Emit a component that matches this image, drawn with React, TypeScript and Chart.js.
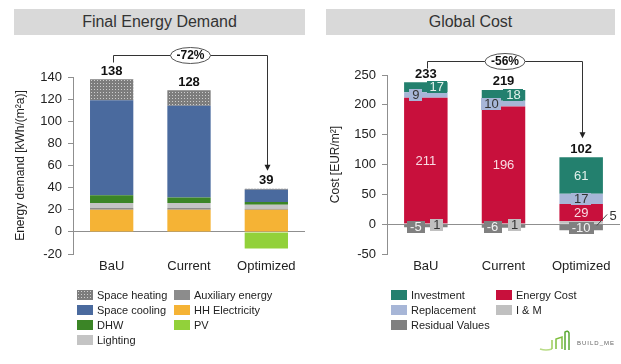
import React, { useEffect, useRef } from 'react';
import { Chart, registerables } from 'chart.js';

Chart.register(...registerables);

const FONT = 'Liberation Sans, Arial, Helvetica, sans-serif';
Chart.defaults.font.family = FONT;

// ---------- shared ----------
const categories = ['BaU', 'Current', 'Optimized'];

// ---------- Final Energy Demand [kWh/(m²a)] ----------
const hhElectricity = [20, 20, 20];
const auxiliaryEnergy = [1.5, 1.5, 1];
const lighting = [4.5, 4.5, 3.5];
const dhw = [7, 5, 2.5];
const spaceCooling = [86, 83, 11];
const spaceHeating = [19, 14, 1];
const pv = [0, 0, -15];
const energyTotals = [138, 128, 39];
const energyReduction = '-72%';
const energyAxis = { min: -20, max: 140, step: 20 };

// ---------- Global Cost [EUR/m²] ----------
const iAndM = [1, 1, 5];
const energyCost = [211, 196, 29];
const replacement = [9, 10, 17];
const investment = [17, 18, 61];
const residualValues = [-5, -6, -10];
const costTotals = [233, 219, 102];
const costReduction = '-56%';
const costAxis = { min: -50, max: 250, step: 50 };

// ---------- colours ----------
const C = {
  heating: '#7d7d7d',
  cooling: '#4a6a9e',
  dhw: '#3b8526',
  lighting: '#c4c4c4',
  aux: '#8c8c8c',
  hh: '#f5b335',
  pv: '#92d13a',
  investment: '#23806e',
  energyCost: '#c8103c',
  replacement: '#a7b6d7',
  im: '#c0c0c0',
  residual: '#808080',
};

const makeDots = (): CanvasPattern | string => {
  const c = document.createElement('canvas');
  c.width = 3;
  c.height = 3;
  const g = c.getContext('2d');
  if (!g) return C.heating;
  g.fillStyle = C.heating;
  g.fillRect(0, 0, 3, 3);
  g.fillStyle = '#cdcdcd';
  g.fillRect(1, 1, 1, 1);
  return g.createPattern(c, 'repeat') || C.heating;
};

const drawBracket = (ctx: CanvasRenderingContext2D, x0: number, x1: number, y: number, tipY: number, text: string) => {
  ctx.save();
  ctx.strokeStyle = '#333';
  ctx.lineWidth = 1;
  const a = Math.round(x0) + 0.5;
  const b = Math.round(x1) + 0.5;
  const yy = Math.round(y) + 0.5;
  ctx.beginPath();
  ctx.moveTo(a, yy + 7);
  ctx.lineTo(a, yy);
  ctx.lineTo(b, yy);
  ctx.lineTo(b, tipY - 5);
  ctx.stroke();
  ctx.fillStyle = '#222';
  ctx.beginPath();
  ctx.moveTo(b - 3, tipY - 6);
  ctx.lineTo(b + 3, tipY - 6);
  ctx.lineTo(b, tipY);
  ctx.closePath();
  ctx.fill();
  const cx = (a + b) / 2;
  ctx.beginPath();
  ctx.ellipse(cx, yy, 20, 8, 0, 0, Math.PI * 2);
  ctx.fillStyle = '#fff';
  ctx.fill();
  ctx.strokeStyle = '#555';
  ctx.stroke();
  ctx.fillStyle = '#111';
  ctx.font = `bold 12px ${FONT}`;
  ctx.textAlign = 'center';
  ctx.textBaseline = 'middle';
  ctx.fillText(text, cx, yy + 0.5);
  ctx.restore();
};

const annotatePlugin = (totals: number[], reduction: string, bracketY: number, tipGap: number) => ({
  id: 'annotate',
  afterDatasetsDraw(chart: any) {
    const ctx: CanvasRenderingContext2D = chart.ctx;
    const zero = chart.scales.y.getPixelForValue(0);
    // segment labels
    chart.data.datasets.forEach((ds: any, i: number) => {
      const st = ds.labelStyle;
      if (!st) return;
      const meta = chart.getDatasetMeta(i);
      ds.data.forEach((v: number, j: number) => {
        if (!v) return;
        const el = meta.data[j];
        const cx = el.x + (st.dx ? st.dx[j] : 0);
        const cy = (el.y + el.base) / 2 + (st.dy ? st.dy[j] : 0);
        const txt = String(v);
        ctx.save();
        ctx.font = `13px ${FONT}`;
        ctx.textAlign = 'center';
        ctx.textBaseline = 'middle';
        const w = ctx.measureText(txt).width;
        if (st.callout && st.callout[j]) {
          ctx.strokeStyle = '#444';
          ctx.lineWidth = 1;
          ctx.beginPath();
          ctx.moveTo(el.x + el.width / 2 - 6, (el.y + el.base) / 2 + 3);
          ctx.lineTo(cx - 5, cy - 2);
          ctx.stroke();
          ctx.fillStyle = '#333';
          ctx.fillText(txt, cx + 1, cy);
        } else {
          if (st.bg) {
            ctx.fillStyle = st.bg;
            ctx.fillRect(Math.round(cx - w / 2 - 3), Math.round(cy - 6), Math.round(w + 6), 12);
          }
          ctx.fillStyle = st.color;
          ctx.fillText(txt, cx, cy + 0.5);
        }
        ctx.restore();
      });
    });
    // totals
    const xs: number[] = [];
    const labelYs: number[] = [];
    totals.forEach((t, j) => {
      let top = zero;
      let x = 0;
      chart.data.datasets.forEach((ds: any, i: number) => {
        const el = chart.getDatasetMeta(i).data[j];
        x = el.x;
        if (ds.data[j] > 0) top = Math.min(top, el.y);
      });
      xs.push(x);
      const ly = top - 8;
      labelYs.push(ly);
      ctx.save();
      ctx.font = `bold 13px ${FONT}`;
      ctx.fillStyle = '#111';
      ctx.textAlign = 'center';
      ctx.textBaseline = 'middle';
      ctx.fillText(String(t), x, ly);
      ctx.restore();
    });
    const last = totals.length - 1;
    drawBracket(ctx, xs[0] + 1, xs[last] + 1, bracketY, labelYs[last] - tipGap, reduction);
  },
});

const axisOptions = (axis: { min: number; max: number; step: number }, title: string, yWidth: number, titlePad: number, topPad: number, rightPad: number) => ({
  responsive: false,
  animation: false,
  events: [],
  layout: { padding: { top: topPad, right: rightPad, left: 0, bottom: 0 } },
  plugins: { legend: { display: false }, tooltip: { enabled: false } },
  scales: {
    x: {
      stacked: true,
      grid: { display: false, drawTicks: false },
      border: { display: false },
      ticks: { font: { size: 13, family: FONT }, color: '#222', padding: 5 },
      afterFit: (s: any) => {
        s.height = 36;
      },
    },
    y: {
      stacked: true,
      min: axis.min,
      max: axis.max,
      ticks: { stepSize: axis.step, font: { size: 13, family: FONT }, color: '#222', padding: 6 },
      grid: {
        color: (c: any) => (c.tick && c.tick.value === 0 ? '#8f8f8f' : 'rgba(0,0,0,0)'),
        tickColor: '#8f8f8f',
        tickLength: 5,
        drawTicks: true,
      },
      border: { display: true, color: '#8f8f8f' },
      title: { display: true, text: title, font: { size: 12, family: FONT }, color: '#222', padding: { top: titlePad, bottom: 0 } },
      afterFit: (s: any) => {
        s.width = yWidth;
      },
    },
  },
});

const BAR = { barPercentage: 0.56, categoryPercentage: 1 };

const LegendBlock = ({ items }: { items: { label: string; x: number; y: number; bg: any }[] }) => (
  <>
    {items.map((it) => (
      <React.Fragment key={it.label}>
        <div style={{ position: 'absolute', left: it.x, top: it.y - 5, width: 16, height: 10, ...it.bg }} />
        <div
          style={{
            position: 'absolute',
            left: it.x + 20,
            top: it.y - 7,
            font: `11px ${FONT}`,
            lineHeight: '14px',
            color: '#222',
            whiteSpace: 'nowrap',
          }}
        >
          {it.label}
        </div>
      </React.Fragment>
    ))}
  </>
);

export default function App() {
  const leftRef = useRef<HTMLCanvasElement>(null);
  const rightRef = useRef<HTMLCanvasElement>(null);

  useEffect(() => {
    const dots = makeDots();
    const left = new Chart(leftRef.current as HTMLCanvasElement, {
      type: 'bar',
      data: {
        labels: categories,
        datasets: [
          { label: 'HH Electricity', data: hhElectricity, backgroundColor: C.hh, ...BAR },
          { label: 'Auxiliary energy', data: auxiliaryEnergy, backgroundColor: C.aux, ...BAR },
          { label: 'Lighting', data: lighting, backgroundColor: C.lighting, ...BAR },
          { label: 'DHW', data: dhw, backgroundColor: C.dhw, ...BAR },
          { label: 'Space cooling', data: spaceCooling, backgroundColor: C.cooling, ...BAR },
          { label: 'Space heating', data: spaceHeating, backgroundColor: dots, ...BAR },
          { label: 'PV', data: pv, backgroundColor: C.pv, ...BAR },
        ],
      },
      options: axisOptions(energyAxis, 'Energy demand [kWh/(m²a)]', 73, 13, 37, 5) as any,
      plugins: [annotatePlugin(energyTotals, energyReduction, 15, 10)],
    });
    const right = new Chart(rightRef.current as HTMLCanvasElement, {
      type: 'bar',
      data: {
        labels: categories,
        datasets: [
          {
            label: 'I & M',
            data: iAndM,
            backgroundColor: C.im,
            ...BAR,
            labelStyle: { color: '#333', bg: C.im, dx: [11, 11, 31], dy: [1, 1, -6], callout: [false, false, true] },
          } as any,
          {
            label: 'Energy Cost',
            data: energyCost,
            backgroundColor: C.energyCost,
            ...BAR,
            labelStyle: { color: '#f8dbe3', bg: null },
          },
          {
            label: 'Replacement',
            data: replacement,
            backgroundColor: C.replacement,
            ...BAR,
            labelStyle: { color: '#333', bg: C.replacement, dx: [-10, -12, 0] },
          },
          {
            label: 'Investment',
            data: investment,
            backgroundColor: C.investment,
            ...BAR,
            labelStyle: { color: '#e3f1ec', bg: C.investment, dx: [11, 10, 0] },
          },
          {
            label: 'Residual Values',
            data: residualValues,
            backgroundColor: C.residual,
            ...BAR,
            labelStyle: { color: '#f2f2f2', bg: C.residual, dx: [-10, -11, 0], dy: [1, 1, 1] },
          },
        ],
      },
      options: axisOptions(costAxis, 'Cost [EUR/m²]', 77, 18, 35, 1) as any,
      plugins: [annotatePlugin(costTotals, costReduction, 21, 11)],
    });
    return () => {
      left.destroy();
      right.destroy();
    };
  }, []);

  const dotBg = {
    backgroundColor: C.heating,
    backgroundImage: 'radial-gradient(#d0d0d0 0.7px, transparent 0.9px)',
    backgroundSize: '3px 3px',
  };
  const rowY = [295, 310, 325, 340];

  const leftLegend = [
    { label: 'Space heating', x: 77, y: rowY[0], bg: dotBg },
    { label: 'Space cooling', x: 77, y: rowY[1], bg: { background: C.cooling } },
    { label: 'DHW', x: 77, y: rowY[2], bg: { background: C.dhw } },
    { label: 'Lighting', x: 77, y: rowY[3], bg: { background: C.lighting } },
    { label: 'Auxiliary energy', x: 174, y: rowY[0], bg: { background: C.aux } },
    { label: 'HH Electricity', x: 174, y: rowY[1], bg: { background: C.hh } },
    { label: 'PV', x: 174, y: rowY[2], bg: { background: C.pv } },
  ];
  const rightLegend = [
    { label: 'Investment', x: 391, y: rowY[0], bg: { background: C.investment } },
    { label: 'Replacement', x: 391, y: rowY[1], bg: { background: C.replacement } },
    { label: 'Residual Values', x: 391, y: rowY[2], bg: { background: C.residual } },
    { label: 'Energy Cost', x: 496, y: rowY[0], bg: { background: C.energyCost } },
    { label: 'I & M', x: 496, y: rowY[1], bg: { background: C.im } },
  ];

  const band = (left: number, width: number, text: string) => (
    <div
      style={{
        position: 'absolute',
        left,
        top: 9,
        width,
        height: 26,
        background: '#d9d9d9',
        font: `16px ${FONT}`,
        lineHeight: '26px',
        color: '#333',
        textAlign: 'center',
      }}
    >
      {text}
    </div>
  );

  return (
    <div style={{ position: 'fixed', left: 0, top: 0, width: 621, height: 364, background: '#fff', overflow: 'hidden' }}>
      {band(14, 291, 'Final Energy Demand')}
      {band(326, 289, 'Global Cost')}
      <canvas ref={leftRef} width={310} height={250} style={{ position: 'absolute', left: 0, top: 40, width: 310, height: 250 }} />
      <canvas ref={rightRef} width={311} height={250} style={{ position: 'absolute', left: 310, top: 40, width: 311, height: 250 }} />
      <LegendBlock items={leftLegend} />
      <LegendBlock items={rightLegend} />
      <svg style={{ position: 'absolute', left: 538, top: 328 }} width={40} height={26}>
        <path d="M2 21 Q8 23 14 21" stroke="#b9dc86" strokeWidth={1.5} fill="none" />
        <path d="M14 21 L14 12" stroke="#9ccc5a" strokeWidth={1.5} fill="none" />
        <path d="M18 21 L18 11 L24 9 L24 21" stroke="#7fbf3f" strokeWidth={1.5} fill="none" />
        <path d="M27 22 L27 4 Q30 2 31 5 L31 22" stroke="#5aa832" strokeWidth={1.5} fill="none" />
      </svg>
      <div
        style={{
          position: 'absolute',
          left: 577,
          top: 340,
          font: `6px ${FONT}`,
          letterSpacing: '1px',
          color: '#666',
          whiteSpace: 'nowrap',
        }}
      >
        BUILD_ME
      </div>
    </div>
  );
}
